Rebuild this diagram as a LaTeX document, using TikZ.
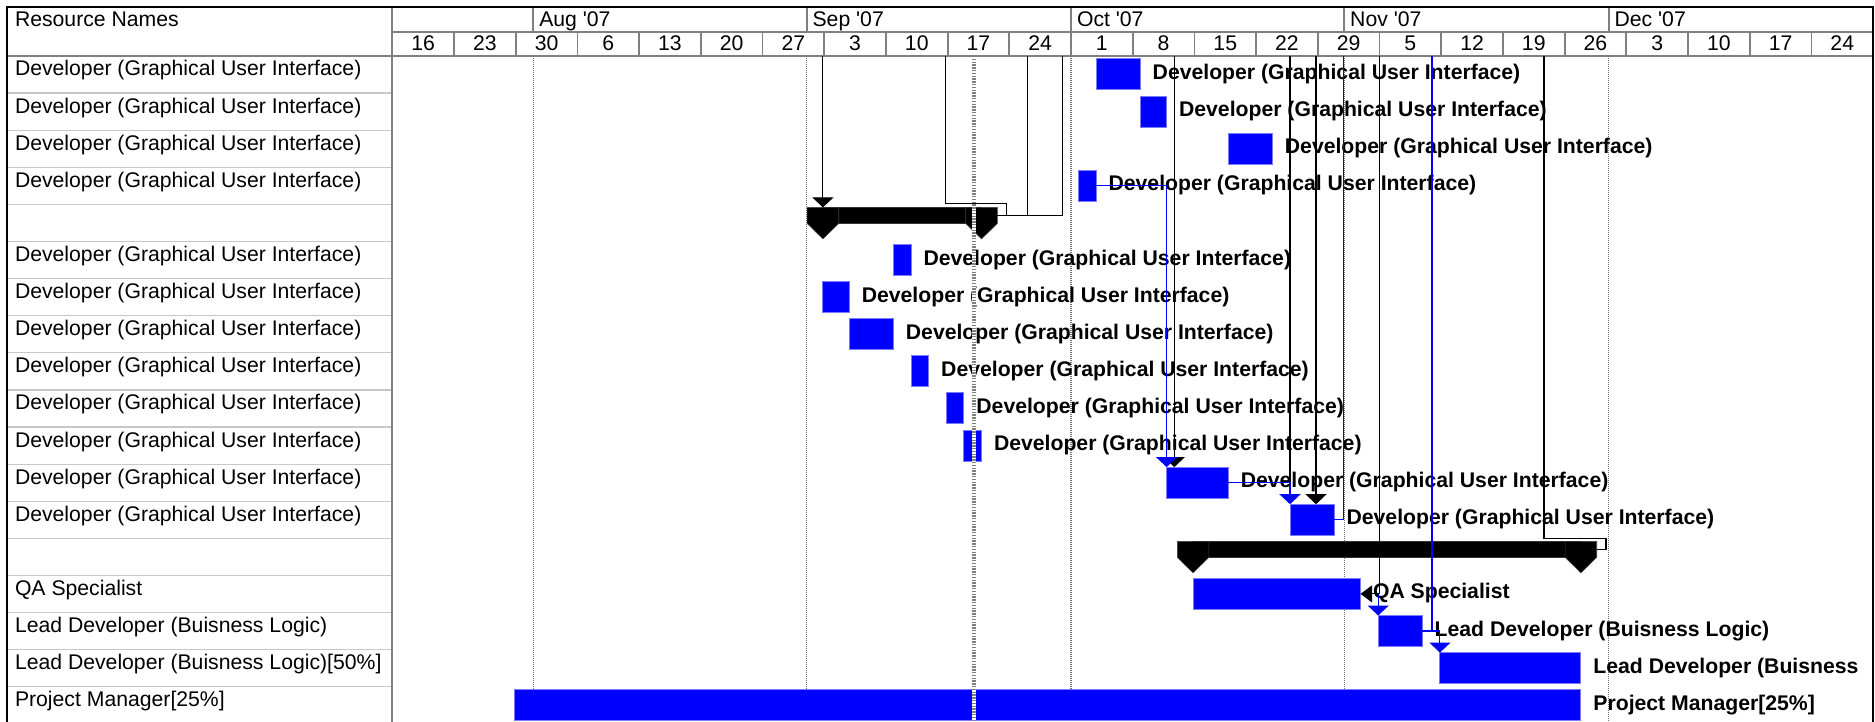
\documentclass[tikz,border=0pt]{standalone}
\usepackage{fontspec}
\setmainfont{Liberation Sans}
\usetikzlibrary{fit,arrows.meta}
\definecolor{gridgray}{HTML}{808080}
\definecolor{rowgray}{HTML}{C8C8C8}
\definecolor{dotgray}{HTML}{707070}
\definecolor{taskblue}{HTML}{0000FF}
\definecolor{taskedge}{HTML}{7B7BFF}
\tikzset{
  txt/.style={inner sep=0pt, outer sep=0pt, font=\fontsize{10.6}{12.7}\selectfont},
  resname/.style={txt, anchor=base west},
  monthname/.style={txt, anchor=base west},
  weekname/.style={txt, anchor=base},
  tasklabel/.style={txt, anchor=base west, font=\fontsize{10.6}{12.7}\selectfont\bfseries},
  taskbar/.style={rectangle, inner sep=0pt, outer sep=0pt, fill=taskblue, draw=taskedge, line width=0.5pt},
  sumband/.style={rectangle, inner sep=0pt, outer sep=0pt, fill=black, draw=black!80, line width=0.3pt},
  sumcap/.style={fill=black, draw=black!75, line width=0.3pt},
  grid/.style={draw=gridgray, line width=0.9pt},
  rowline/.style={draw=rowgray, line width=0.6pt},
  frame/.style={draw=black, line width=1.1pt},
  monthline/.style={draw=dotgray, line width=0.55pt, dash pattern=on 0.5pt off 0.5pt},
  link/.style={draw=black, line width=0.55pt},
  bluelink/.style={draw=taskblue, line width=0.55pt},
  downtip/.style={-{Triangle[width=10.5pt,length=5pt]}},
  lefttip/.style={-{Triangle[width=8.5pt,length=5.8pt]}},
}
\begin{document}
\begin{tikzpicture}[x=0.5pt,y=-0.5pt]
\useasboundingbox (0,0) rectangle (1875,722);
\fill[white] (0,0) rectangle (1875,722);

% ---------- table: resource column and timescale ----------
\foreach \i in {1,...,17}
  \draw[rowline] (6.7,{56+37.1*\i}) -- (392.3,{56+37.1*\i});
\draw[grid] (392.3,6.7) -- (392.3,722);
\draw[grid] (392.3,31.7) -- (1873,31.7);
\draw[grid] (6.7,56) -- (1873,56);
\foreach \x in {533.3,806.6,1071,1344.2,1608.6}
  \draw[grid] (\x,6.7) -- (\x,31.7);
\foreach \k in {1,...,23}
  \draw[grid] ({392.3+61.7*\k},31.7) -- ({392.3+61.7*\k},56);
\draw[frame] (6.7,722) -- (6.7,6.7) -- (1873,6.7) -- (1873,722);

\node[resname] (hdr) at (15,26.7) {Resource Names};
\node[monthname] (aug) at (539.3,26.5) {Aug \textquotesingle07};
\node[monthname] (sep) at (812.6,26.5) {Sep \textquotesingle07};
\node[monthname] (oct) at (1077,26.5) {Oct \textquotesingle07};
\node[monthname] (nov) at (1350.2,26.5) {Nov \textquotesingle07};
\node[monthname] (dec) at (1614.6,26.5) {Dec \textquotesingle07};
\foreach \lab [count=\k from 0] in {16,23,30,6,13,20,27,3,10,17,24,1,8,15,22,29,5,12,19,26,3,10,17,24}
  \node[weekname] (wk\k) at ({392.3+61.7*(\k+0.5)},50.5) {\lab};

\foreach \txt [count=\i] in {
  {Developer (Graphical User Interface)},{Developer (Graphical User Interface)},
  {Developer (Graphical User Interface)},{Developer (Graphical User Interface)},
  {},
  {Developer (Graphical User Interface)},{Developer (Graphical User Interface)},
  {Developer (Graphical User Interface)},{Developer (Graphical User Interface)},
  {Developer (Graphical User Interface)},{Developer (Graphical User Interface)},
  {Developer (Graphical User Interface)},{Developer (Graphical User Interface)},
  {},
  {QA Specialist},{Lead Developer (Buisness Logic)},
  {Lead Developer (Buisness Logic)[50\%]},{Project Manager[25\%]}}
  \node[resname] (res\i) at (15,{56+37.1*(\i-1)+20}) {\txt};

% ---------- month gridlines ----------
\foreach \x in {533.3,806.6,1071,1344.2,1608.6}
  \draw[monthline] (\x,56) -- (\x,722);

% ---------- task bars ----------
\node[taskbar, fit={(1096.1,59)(1140.2,90)}] (t1) {};
\node[taskbar, fit={(1140.2,96.1)(1166.6,127.1)}] (t2) {};
\node[taskbar, fit={(1228.3,133.2)(1272.4,164.2)}] (t3) {};
\node[taskbar, fit={(1078.5,170.3)(1096.1,201.3)}] (t4) {};
\node[taskbar, fit={(893.4,244.5)(911.0,275.5)}] (t6) {};
\node[taskbar, fit={(822.9,281.6)(849.3,312.6)}] (t7) {};
\node[taskbar, fit={(849.3,318.7)(893.4,349.7)}] (t8) {};
\node[taskbar, fit={(911.0,355.8)(928.7,386.8)}] (t9) {};
\node[taskbar, fit={(946.3,392.9)(963.9,423.9)}] (t10) {};
\node[taskbar, fit={(963.9,430.0)(981.5,461.0)}] (t11) {};
\node[taskbar, fit={(1166.6,467.1)(1228.3,498.1)}] (t12) {};
\node[taskbar, fit={(1290.0,504.2)(1334.1,535.2)}] (t13) {};
\node[taskbar, fit={(1193.1,578.4)(1360.5,609.4)}] (t15) {};
\node[taskbar, fit={(1378.2,615.5)(1422.2,646.5)}] (t16) {};
\node[taskbar, fit={(1439.9,652.6)(1580.9,683.6)}] (t17) {};
\node[taskbar, fit={(514.4,689.7)(1580.9,720.7)}] (t18) {};

% ---------- summary bars ----------
\node[sumband, fit={(822.9,207.4)(981.5,223.4)}] (s5) {};
\node[sumband, fit={(1193.1,541.3)(1580.9,557.3)}] (s14) {};
\foreach \a in {s5.north west,s5.north east,s14.north west,s14.north east}
  \filldraw[sumcap] (\a) ++(-15.8,0) -- ++(31.6,0) -- ++(0,16) -- ++(-15.8,15.5) -- ++(-15.8,-15.5) -- cycle;

% ---------- bar labels ----------
\node[tasklabel] (l1) at (1152.7,79.5) {Developer (Graphical User Interface)};
\node[tasklabel] (l2) at (1179.1,116.6) {Developer (Graphical User Interface)};
\node[tasklabel] (l3) at (1284.9,153.7) {Developer (Graphical User Interface)};
\node[tasklabel] (l4) at (1108.6,190.8) {Developer (Graphical User Interface)};
\node[tasklabel] (l6) at (923.5,265.0) {Developer (Graphical User Interface)};
\node[tasklabel] (l7) at (861.8,302.1) {Developer (Graphical User Interface)};
\node[tasklabel] (l8) at (905.9,339.2) {Developer (Graphical User Interface)};
\node[tasklabel] (l9) at (941.2,376.3) {Developer (Graphical User Interface)};
\node[tasklabel] (l10) at (976.4,413.4) {Developer (Graphical User Interface)};
\node[tasklabel] (l11) at (994.0,450.5) {Developer (Graphical User Interface)};
\node[tasklabel] (l12) at (1240.8,487.6) {Developer (Graphical User Interface)};
\node[tasklabel] (l13) at (1346.6,524.7) {Developer (Graphical User Interface)};
\node[tasklabel] (l15) at (1373.0,598.9) {QA Specialist};
\node[tasklabel] (l16) at (1434.7,636.0) {Lead Developer (Buisness Logic)};
\node[tasklabel] (l17) at (1593.4,673.1) {Lead Developer (Buisness};
\node[tasklabel] (l18) at (1593.4,710.2) {Project Manager[25\%]};

% ---------- current date line ----------
\draw[white, line width=1.8pt] (974,56) -- (974,722);
\draw[gridgray, line width=1.8pt, dash pattern=on 0.7pt off 0.7pt] (974,56) -- (974,722);

% ---------- link ends leaving the visible rows ----------
\coordinate (k1) at (822.9,56);
\coordinate (k2) at (945.7,56);
\coordinate (k2b) at (1006.7,203.6);
\coordinate (k3) at (1027.3,56);
\coordinate (k4) at (1062.7,56);
\coordinate (k5) at (1174.3,56);
\coordinate (k6) at (1290,56);
\coordinate (k7) at (1316,56);
\coordinate (k8) at (1343.8,56);
\coordinate (k9) at (1544,56);
\coordinate (k9b) at (1606,538.3);
\coordinate (k10) at (1379.8,56);
\coordinate (k11) at (1432,56);
\coordinate (s5out) at ([xshift=7.9pt]s5.east);
\coordinate (s14out) at ([xshift=7.9pt]s14.east);

% ---------- links ----------
\draw[link,downtip] (k1) -- (s5.north west);
\draw[link] (k2) |- (k2b) -- (k2b |- s5.east);
\draw[link] (s5out) -- (k4 |- s5.east) -- (k4);
\draw[link] (k3) -- (k3 |- s5.east);
\draw[link,downtip] (k5) -- (k5 |- t12.north);
\draw[bluelink,downtip] (t4.east) -| (t12.north west);
\draw[link] (k6) -- (k6 |- t12.east);
\draw[link,downtip] (k7) -- (k7 |- t13.north);
\draw[bluelink,downtip] (t12.east) -| (t13.north west);
\draw[bluelink] (t13.east) -| (k8);
\draw[link] (s14out) -| (k9b) -| (k9);
\draw[bluelink,downtip] (t15.east) -| (t16.north west);
\draw[link,lefttip] (k10) |- (t15.east);
\draw[bluelink] (k11) -- (k11 |- t16.east);
\draw[bluelink,downtip] (t16.east) -| (t17.north west);
\end{tikzpicture}
\end{document}
